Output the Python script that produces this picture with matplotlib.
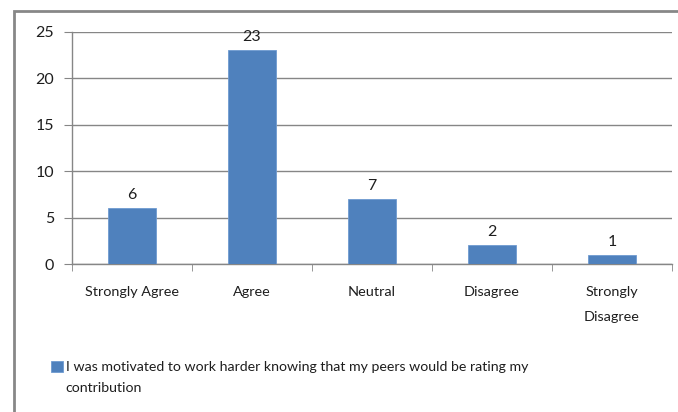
import matplotlib
matplotlib.use("Agg")
import matplotlib.pyplot as plt
from matplotlib.patches import Rectangle

# Survey responses
categories = ["Strongly Agree", "Agree", "Neutral", "Disagree", "Strongly\nDisagree"]
counts = [6, 23, 7, 2, 1]
series_line1 = "I was motivated to work harder knowing that my peers would be rating my"
series_line2 = "contribution"

bar_color = "#4f81bd"
grid_color = "#868686"
text_color = "#1e1e1e"

plt.rcParams["font.family"] = ["Lato", "DejaVu Sans"]
plt.rcParams["font.size"] = 10

W, H = 678, 412
fig = plt.figure(figsize=(W / 100, H / 100), dpi=100)
ax = fig.add_axes([72 / W, 1 - 264 / H, 600 / W, 232.3 / H])

x = range(len(categories))
bars = ax.bar(x, counts, width=0.4, color=bar_color, edgecolor="#6f9bd1", linewidth=0.6,
              label=series_line1, zorder=3)
for b, v in zip(bars, counts):
    ax.text(b.get_x() + b.get_width() / 2, v + 1.4, str(v), ha="center", va="center",
            fontsize=11.5, color=text_color)

ax.set_xlim(-0.5, len(categories) - 0.5)
ax.set_ylim(0, 25)
ax.set_yticks(range(0, 26, 5))
ax.yaxis.grid(True, color=grid_color, linewidth=1.0, zorder=0)

ax.set_xticks(list(x))
ax.set_xticklabels(categories, multialignment="center", color=text_color, fontsize=10.4)
for t in ax.get_xticklabels():
    t.set_linespacing(2.3)
ax.set_xticks([i - 0.5 for i in range(len(categories) + 1)], minor=True)
ax.tick_params(axis="x", which="major", length=0, pad=16)
ax.tick_params(axis="x", which="minor", length=5, color=grid_color, direction="out")
ax.tick_params(axis="y", length=6, color=grid_color, labelcolor=text_color,
               labelsize=11.5, pad=7)

for s in ["top", "right"]:
    ax.spines[s].set_visible(False)
for s in ["left", "bottom"]:
    ax.spines[s].set_color(grid_color)
    ax.spines[s].set_linewidth(1.0)

leg = fig.legend(loc="center left", bbox_to_anchor=(51 / W, 1 - 367 / H), frameon=False,
                 handlelength=0.85, handleheight=0.85, handletextpad=0.2, fontsize=10.2,
                 borderaxespad=0, borderpad=0)
leg.get_texts()[0].set_color(text_color)

# second line of the wrapped legend entry, lined up under the first
fig.canvas.draw()
bb = leg.get_texts()[0].get_window_extent().transformed(fig.transFigure.inverted())
fig.text(bb.x0, 1 - 388 / H, series_line2, ha="left", va="center", fontsize=10.2,
         color=text_color)

# chart frame (cut off at right and bottom in the original)
fig.patches.append(Rectangle((14 / W, -0.1), 1.2, 1 - 11 / H + 0.1, transform=fig.transFigure,
                             fill=False, edgecolor="#878787", linewidth=2))

fig.savefig("out.png", dpi=100)
